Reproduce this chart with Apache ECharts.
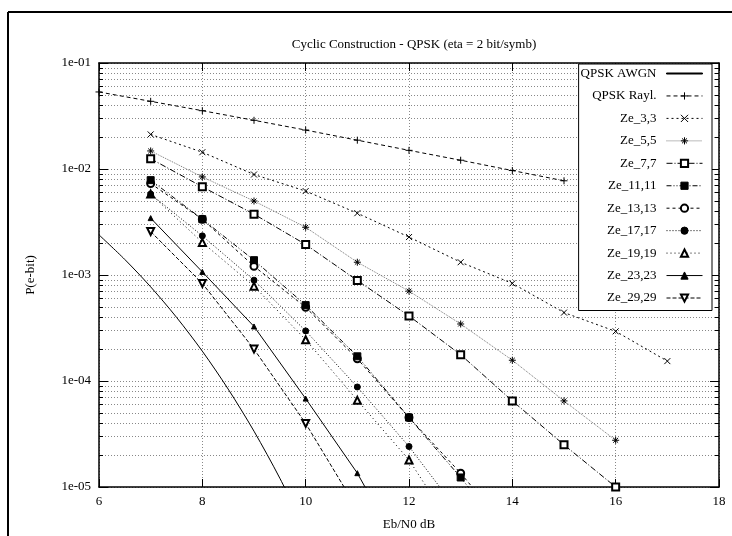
<!DOCTYPE html>
<html>
<head>
<meta charset="utf-8">
<script src="https://cdn.jsdelivr.net/npm/echarts@6/dist/echarts.min.js"></script>
<style>
html,body{margin:0;padding:0;background:#fff}
#chart{width:732px;height:536px}
</style>
</head>
<body>
<div id="chart"></div>
<script>
// tick labels of the log axis
var yTickValues = [1e-5, 1e-4, 1e-3, 1e-2, 1e-1];
var yTickLabels = ['1e-05', '1e-04', '1e-03', '1e-02', '1e-01'];

// QPSK references
var xAwgn = [6, 6.5, 7, 7.5, 8, 8.5, 9, 9.5, 10];
var pAwgn = [2.39e-3, 1.40e-3, 7.73e-4, 3.99e-4, 1.91e-4, 8.39e-5, 3.36e-5, 1.21e-5, 3.87e-6];
var xRayl = [6, 7, 8, 9, 10, 11, 12, 13, 14, 15];
var pRayl = [0.0533, 0.0435, 0.0355, 0.0288, 0.0233, 0.0187, 0.0150, 0.0121, 0.00967, 0.00774];

// cyclic constructions, all start at 7 dB
var ebn0 = [7, 8, 9, 10, 11, 12, 13, 14, 15, 16, 17];
var ze3 = [0.0212, 0.0144, 0.00887, 0.00619, 0.00383, 0.00228, 0.00132, 0.000833, 0.000442, 0.000294, 0.000154];
var ze5 = [0.0148, 0.00842, 0.00499, 0.00282, 0.00132, 0.000705, 0.000345, 0.000157, 6.49e-5, 2.76e-5];
var ze7 = [0.0125, 0.00679, 0.00375, 0.00194, 0.000888, 0.000411, 0.000177, 6.49e-5, 2.5e-5, 1.0e-5];
var ze11 = [0.00785, 0.00336, 0.00138, 0.00052, 0.000171, 4.52e-5, 1.23e-5, 3.0e-6];
var ze13 = [0.0073, 0.00336, 0.00121, 0.000496, 0.000162, 4.52e-5, 1.35e-5, 3.5e-6];
var ze17 = [0.0058, 0.00234, 0.000894, 0.000297, 8.78e-5, 2.41e-5, 5.5e-6];
var ze19 = [0.0058, 0.00203, 0.000785, 0.000245, 6.57e-5, 1.80e-5, 3.2e-6];
var ze23 = [0.00344, 0.00107, 0.000327, 6.82e-5, 1.35e-5, 1.8e-6];
var ze29 = [0.00257, 0.000833, 0.0002, 3.98e-5, 6.2e-6];

var FONT = 'Liberation Serif';
var PLUS = 'path://M0,5L10,5M5,0L5,10';
var CROSS = 'path://M0,0L10,10M0,10L10,0';
var STAR = 'path://M0,5L10,5M5,0L5,10M1.5,1.5L8.5,8.5M1.5,8.5L8.5,1.5';
var GRID_DOT = {color: '#888', width: 1, type: [1, 2]};

function pairs(xs, ys) {
	var out = [];
	for (var i = 0; i < ys.length; i++) out.push([xs[i], ys[i]]);
	return out;
}

function mk(name, xs, ys, symbol, size, dash, color, extra) {
	var s = {
		name: name,
		type: 'line',
		data: pairs(xs, ys),
		symbol: symbol,
		symbolSize: size,
		showSymbol: symbol != 'none',
		clip: true,
		z: 2,
		lineStyle: {color: color || '#000', width: 1, type: dash},
		itemStyle: {color: '#000', borderColor: '#000', borderWidth: 1}
	};
	for (var k in extra) s[k] = extra[k];
	return s;
}

var series = [
	mk('QPSK AWGN', xAwgn, pAwgn, 'none', 0, 'solid', '#000', {smooth: 0.3}),
	mk('QPSK Rayl.', xRayl, pRayl, PLUS, 7, [4, 3]),
	mk('Ze_3,3', ebn0, ze3, CROSS, 6, [2, 3]),
	mk('Ze_5,5', ebn0, ze5, STAR, 7, [1, 1], '#777'),
	mk('Ze_7,7', ebn0, ze7, 'emptyRect', 7, [6, 2, 1, 2]),
	mk('Ze_11,11', ebn0, ze11, 'rect', 7, [5, 2, 1, 2, 1, 2], '#000', {z: 3}),
	mk('Ze_13,13', ebn0, ze13, 'emptyCircle', 7, [3, 3]),
	mk('Ze_17,17', ebn0, ze17, 'circle', 6, [1, 2], '#000', {z: 3}),
	mk('Ze_19,19', ebn0, ze19, 'emptyTriangle', 7, [1, 3]),
	mk('Ze_23,23', ebn0, ze23, 'triangle', 5, 'solid'),
	mk('Ze_29,29', ebn0, ze29, 'emptyTriangle', 7, [4, 2], '#000', {symbolRotate: 180})
];

var legendData = [];
for (var i = 0; i < series.length; i++) {
	if (series[i].symbol == 'none') legendData.push({name: series[i].name, icon: 'path://M0,0L36,0L36,1L0,1Z'});
	else legendData.push({name: series[i].name});
}

var chart = echarts.init(document.getElementById('chart'));
var option = {
	animation: false,
	backgroundColor: '#fff',
	title: {
		text: 'Cyclic Construction - QPSK (eta = 2 bit/symb)',
		left: 409,
		textAlign: 'center',
		top: 33,
		textStyle: {fontFamily: FONT, fontSize: 13, fontWeight: 'normal', color: '#000'}
	},
	legend: {
		data: legendData,
		orient: 'vertical',
		right: 20,
		top: 64,
		align: 'right',
		selectedMode: false,
		backgroundColor: '#fff',
		borderColor: '#000',
		borderWidth: 1,
		padding: [3, 9, 6, 2],
		itemWidth: 36,
		itemHeight: 9,
		itemGap: 9.45,
		itemStyle: {borderWidth: 1},
		lineStyle: {width: 1},
		textStyle: {fontFamily: FONT, fontSize: 13, color: '#000', padding: [0, 5, 0, 0]}
	},
	grid: {left: 99, right: 13, top: 63, bottom: 47},
	xAxis: [{
		type: 'value',
		min: 6,
		max: 18,
		interval: 2,
		name: 'Eb/N0 dB',
		nameLocation: 'middle',
		nameGap: 31,
		nameTextStyle: {fontFamily: FONT, fontSize: 13, color: '#000'},
		axisLine: {lineStyle: {color: '#000', width: 1.5}},
		axisTick: {inside: true, length: 8, lineStyle: {color: '#000'}},
		axisLabel: {fontFamily: FONT, fontSize: 13, color: '#000', margin: 8},
		splitLine: {show: true, lineStyle: GRID_DOT}
	}, {
		type: 'value',
		position: 'top',
		min: 6,
		max: 18,
		interval: 2,
		axisLine: {lineStyle: {color: '#000', width: 1.5}},
		axisTick: {inside: true, length: 8, lineStyle: {color: '#000'}},
		axisLabel: {show: false},
		splitLine: {show: false}
	}],
	yAxis: [{
		type: 'log',
		logBase: 10,
		min: 1e-5,
		max: 1e-1,
		name: 'P(e-bit)',
		nameLocation: 'middle',
		nameRotate: 90,
		nameGap: 62,
		nameTextStyle: {fontFamily: FONT, fontSize: 13, color: '#000'},
		axisLine: {show: true, lineStyle: {color: '#000', width: 1.5}},
		axisTick: {show: true, inside: true, length: 9, lineStyle: {color: '#000'}},
		minorTick: {show: true, splitNumber: 9, length: 4, lineStyle: {color: '#000'}},
		minorSplitLine: {show: true, lineStyle: GRID_DOT},
		axisLabel: {
			fontFamily: FONT, fontSize: 13, color: '#000', margin: 8,
			formatter: function (v) {
				for (var j = 0; j < yTickValues.length; j++) {
					if (Math.abs(Math.log10(v) - Math.log10(yTickValues[j])) < 1e-6) return yTickLabels[j];
				}
				return '';
			}
		},
		splitLine: {show: true, lineStyle: GRID_DOT}
	}, {
		type: 'log',
		logBase: 10,
		min: 1e-5,
		max: 1e-1,
		position: 'right',
		axisLine: {show: true, lineStyle: {color: '#000', width: 1.5}},
		axisTick: {show: true, inside: true, length: 9, lineStyle: {color: '#000'}},
		minorTick: {show: true, splitNumber: 9, length: 4, lineStyle: {color: '#000'}},
		axisLabel: {show: false},
		splitLine: {show: false}
	}],
	graphic: [
		{type: 'line', shape: {x1: 8, y1: 12, x2: 732, y2: 12}, style: {stroke: '#000', lineWidth: 2}},
		{type: 'line', shape: {x1: 8, y1: 12, x2: 8, y2: 536}, style: {stroke: '#000', lineWidth: 2}}
	],
	series: series
};
chart.setOption(option);
</script>
</body>
</html>
